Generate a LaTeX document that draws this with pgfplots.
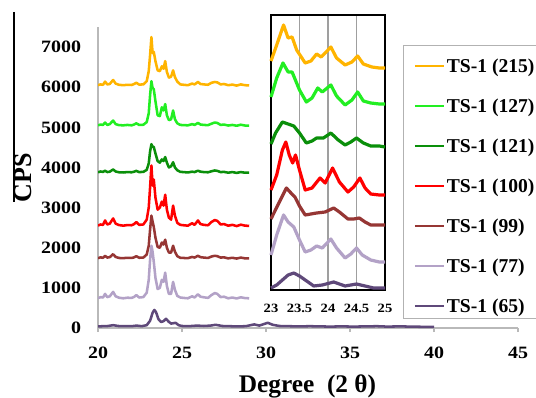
\documentclass[border=0pt]{standalone}
\usepackage{pgfplots}
\pgfplotsset{compat=1.18}
\usepackage{fontspec}
\setmainfont{Liberation Serif}
\newfontfamily\tickfont[FakeStretch=1.15]{Liberation Serif}
\definecolor{cOr}{HTML}{FFB400}
\definecolor{cLg}{HTML}{22EE22}
\definecolor{cDg}{HTML}{0A8F0A}
\definecolor{cRd}{HTML}{FF0000}
\definecolor{cBr}{HTML}{963634}
\definecolor{cLl}{HTML}{B3A2C7}
\definecolor{cPu}{HTML}{5F497A}
\begin{document}
\begin{tikzpicture}
\begin{axis}[
  at={(73.5pt,51.75pt)}, anchor=south west, scale only axis,
  width=315pt, height=225.75pt,
  xmin=20, xmax=45, ymin=0, ymax=7500,
  axis x line=bottom, axis y line=left,
  axis line style={gray!55, line width=0.8pt, -},
  xtick={20,25,30,35,40,45}, ytick={0,1000,2000,3000,4000,5000,6000,7000},
  x tick style={gray!55, line width=0.8pt}, y tick style={draw=none},
  xtick align=outside, ytick align=inside, major tick length=3pt,
  /pgf/number format/assume math mode=true, /pgf/number format/1000 sep={},
  x tick label style={font={\fontsize{13}{15}\tickfont\bfseries}, yshift=-7.7pt},
  y tick label style={font={\fontsize{13}{15}\tickfont\bfseries}, xshift=-9.2pt},
  legend cell align=left,
  legend style={at={(0.752,0.9027)}, anchor=north west, draw=none, fill=none,
    inner sep=0pt, outer sep=0pt, row sep=16pt, /tikz/column sep=1.5pt,
    font={\fontsize{14.7}{16}\selectfont\bfseries},
    nodes={inner sep=0pt, text height=12.5pt, text depth=1.5pt}},
  legend image code/.code={\draw[#1, line width=1.5pt] (0pt,0pt) -- (21.75pt,0pt);},
  every axis plot/.append style={line width=1.9pt, line join=round},
]
\addplot[cOr] coordinates {(20.0,6050)(20.15,6070)(20.3,6060)(20.42,6140)(20.55,6070)(20.7,6080)(20.9,6180)(21.05,6090)(21.25,6060)(21.5,6050)(21.75,6060)(22.0,6055)(22.15,6080)(22.28,6110)(22.45,6065)(22.7,6070)(22.9,6150)(23.02,6400)(23.1,6800)(23.18,7250)(23.25,6850)(23.32,6880)(23.42,6650)(23.55,6420)(23.68,6400)(23.8,6520)(23.9,6460)(24.0,6650)(24.1,6380)(24.22,6240)(24.35,6260)(24.47,6420)(24.58,6250)(24.72,6140)(24.9,6070)(25.1,6060)(25.35,6050)(25.6,6090)(25.75,6070)(25.95,6130)(26.1,6080)(26.3,6070)(26.55,6060)(26.75,6110)(26.95,6130)(27.1,6120)(27.3,6070)(27.5,6080)(27.75,6050)(28.0,6065)(28.25,6040)(28.5,6070)(28.75,6050)(29.0,6045)};
\addlegendentry{TS-1 (215)}
\addplot[cLg] coordinates {(20.0,5050)(20.15,5070)(20.3,5060)(20.42,5120)(20.55,5060)(20.7,5080)(20.9,5170)(21.05,5080)(21.25,5055)(21.5,5050)(21.75,5060)(22.0,5050)(22.15,5070)(22.28,5100)(22.45,5060)(22.7,5065)(22.9,5130)(23.02,5350)(23.1,5800)(23.18,6150)(23.25,5980)(23.32,5950)(23.42,5650)(23.55,5300)(23.68,5280)(23.8,5500)(23.9,5420)(24.0,5580)(24.1,5300)(24.22,5180)(24.35,5200)(24.47,5420)(24.58,5200)(24.72,5100)(24.9,5060)(25.1,5055)(25.35,5050)(25.6,5080)(25.75,5060)(25.95,5110)(26.1,5070)(26.3,5060)(26.55,5055)(26.75,5090)(26.95,5120)(27.1,5110)(27.3,5060)(27.5,5070)(27.75,5045)(28.0,5060)(28.25,5040)(28.5,5065)(28.75,5045)(29.0,5045)};
\addlegendentry{TS-1 (127)}
\addplot[cDg] coordinates {(20.0,3880)(20.15,3900)(20.3,3890)(20.42,3920)(20.55,3885)(20.7,3895)(20.9,3950)(21.05,3900)(21.25,3880)(21.5,3875)(21.75,3885)(22.0,3880)(22.15,3895)(22.28,3915)(22.45,3885)(22.7,3890)(22.9,3940)(23.02,4100)(23.1,4400)(23.18,4580)(23.25,4520)(23.32,4510)(23.42,4350)(23.55,4160)(23.68,4120)(23.8,4200)(23.9,4160)(24.0,4260)(24.1,4120)(24.22,4000)(24.35,4030)(24.47,4130)(24.58,4000)(24.72,3930)(24.9,3890)(25.1,3885)(25.35,3875)(25.6,3895)(25.75,3885)(25.95,3920)(26.1,3895)(26.3,3885)(26.55,3880)(26.75,3905)(26.95,3925)(27.1,3915)(27.3,3885)(27.5,3890)(27.75,3870)(28.0,3885)(28.25,3865)(28.5,3885)(28.75,3870)(29.0,3870)};
\addlegendentry{TS-1 (121)}
\addplot[cRd] coordinates {(20.0,2550)(20.15,2580)(20.3,2570)(20.42,2680)(20.55,2580)(20.7,2600)(20.9,2730)(21.05,2600)(21.25,2565)(21.5,2550)(21.75,2565)(22.0,2560)(22.15,2590)(22.28,2640)(22.45,2570)(22.7,2580)(22.9,2700)(23.02,3000)(23.1,3500)(23.18,4050)(23.25,3550)(23.32,3700)(23.42,3250)(23.55,2950)(23.68,3000)(23.8,3150)(23.9,3050)(24.0,3320)(24.1,2950)(24.22,2750)(24.35,2700)(24.47,3050)(24.58,2800)(24.72,2620)(24.9,2570)(25.1,2560)(25.35,2550)(25.6,2610)(25.75,2570)(25.95,2680)(26.1,2590)(26.3,2570)(26.55,2560)(26.75,2640)(26.95,2690)(27.1,2670)(27.3,2580)(27.5,2590)(27.75,2550)(28.0,2570)(28.25,2540)(28.5,2575)(28.75,2550)(29.0,2545)};
\addlegendentry{TS-1 (100)}
\addplot[cBr] coordinates {(20.0,1740)(20.15,1760)(20.3,1750)(20.42,1800)(20.55,1755)(20.7,1765)(20.9,1840)(21.05,1770)(21.25,1745)(21.5,1740)(21.75,1750)(22.0,1745)(22.15,1760)(22.28,1790)(22.45,1750)(22.7,1755)(22.9,1830)(23.02,2050)(23.1,2450)(23.18,2800)(23.25,2650)(23.32,2520)(23.42,2250)(23.55,2020)(23.68,2000)(23.8,2130)(23.9,2080)(24.0,2200)(24.1,2000)(24.22,1880)(24.35,1880)(24.47,2050)(24.58,1900)(24.72,1790)(24.9,1750)(25.1,1745)(25.35,1740)(25.6,1770)(25.75,1755)(25.95,1800)(26.1,1765)(26.3,1755)(26.55,1745)(26.75,1780)(26.95,1800)(27.1,1790)(27.3,1755)(27.5,1760)(27.75,1735)(28.0,1750)(28.25,1730)(28.5,1755)(28.75,1735)(29.0,1735)};
\addlegendentry{TS-1 (99)}
\addplot[cLl] coordinates {(20.0,740)(20.15,770)(20.3,760)(20.42,850)(20.55,770)(20.7,790)(20.9,900)(21.05,790)(21.25,755)(21.5,740)(21.75,755)(22.0,750)(22.15,775)(22.28,820)(22.45,760)(22.7,770)(22.9,880)(23.02,1200)(23.1,1700)(23.18,2050)(23.25,1900)(23.32,1650)(23.42,1250)(23.55,970)(23.68,1000)(23.8,1200)(23.9,1150)(24.0,1380)(24.1,1050)(24.22,850)(24.35,850)(24.47,1150)(24.58,950)(24.72,800)(24.9,760)(25.1,750)(25.35,740)(25.6,790)(25.75,760)(25.95,840)(26.1,780)(26.3,765)(26.55,750)(26.75,820)(26.95,870)(27.1,850)(27.3,770)(27.5,780)(27.75,740)(28.0,760)(28.25,735)(28.5,765)(28.75,745)(29.0,740)};
\addlegendentry{TS-1 (77)}
\addplot[cPu] coordinates {(20.0,40)(20.3,45)(20.6,50)(20.9,70)(21.2,50)(21.6,45)(22.0,45)(22.3,60)(22.6,45)(22.9,70)(23.1,180)(23.25,380)(23.35,450)(23.45,400)(23.6,220)(23.75,150)(23.9,170)(24.05,230)(24.2,160)(24.35,110)(24.5,120)(24.62,130)(24.8,70)(25.0,50)(25.4,45)(25.9,60)(26.3,50)(26.7,60)(27.0,80)(27.4,50)(27.8,45)(28.3,40)(28.8,45)(29.3,90)(29.6,60)(30.1,130)(30.4,80)(30.8,50)(31.3,45)(32.0,40)(32.6,45)(33.2,40)(33.8,35)(34.5,40)(35.2,35)(36.0,40)(36.6,45)(37.2,35)(38.0,40)(38.6,35)(39.3,30)(40.0,30)};
\addlegendentry{TS-1 (65)}
\end{axis}
\begin{axis}[
  at={(203.25pt,80.25pt)}, anchor=south west, scale only axis,
  width=85.5pt, height=206.25pt,
  xmin=23, xmax=25, ymin=0, ymax=275,
  axis line style={black, line width=0.8pt},
  axis background/.style={fill=white},
  xtick={23,23.5,24,24.5,25}, xticklabels={23,23.5,24,24.5,25}, ytick=\empty,
  xmajorgrids, grid style={gray!75, line width=0.8pt},
  major tick length=0pt,
  x tick label style={font={\fontsize{9.5}{11}\tickfont\bfseries}, yshift=-7.3pt},
  clip=false,
  every axis plot/.append style={line width=2.4pt, line join=round},
]
\addplot[cOr] coordinates {(23,229)(23.1,245)(23.22,265)(23.3,252)(23.37,253)(23.45,240)(23.6,227)(23.7,229)(23.8,236)(23.88,233)(23.95,237)(24.05,243)(24.15,232)(24.3,225)(24.42,228)(24.52,234)(24.62,226)(24.77,223)(24.9,222)(25,222)};
\addplot[cLg] coordinates {(23,193)(23.1,212)(23.21,227)(23.3,218)(23.37,218)(23.5,200)(23.62,188)(23.72,192)(23.82,202)(23.9,198)(24.05,205)(24.15,194)(24.3,185)(24.42,190)(24.52,198)(24.62,189)(24.75,187)(24.9,186)(25,186)};
\addplot[cDg] coordinates {(23,146)(23.08,157)(23.2,168)(23.3,166)(23.4,164)(23.5,157)(23.62,147)(23.72,149)(23.8,152)(23.92,152)(24.05,157)(24.18,150)(24.3,145)(24.4,148)(24.5,152)(24.62,147)(24.75,144)(24.9,144)(25,143)};
\addplot[cRd] coordinates {(23,100)(23.1,115)(23.2,140)(23.26,148)(23.32,135)(23.38,127)(23.43,135)(23.5,120)(23.6,100)(23.72,102)(23.86,112)(23.95,107)(24.08,122)(24.2,108)(24.35,98)(24.45,103)(24.56,112)(24.65,102)(24.75,96)(24.9,95)(25,95)};
\addplot[cBr] coordinates {(23,71)(23.12,85)(23.27,102)(23.35,97)(23.42,93)(23.5,84)(23.6,75)(23.7,76)(23.8,77)(23.95,78)(24.1,82)(24.2,78)(24.35,71)(24.45,71)(24.55,72)(24.65,68)(24.75,65)(24.9,65)(25,65)};
\addplot[cLl] coordinates {(23,35)(23.1,55)(23.22,75)(23.3,68)(23.4,63)(23.5,50)(23.6,38)(23.7,40)(23.8,44)(23.9,42)(24.05,51)(24.15,42)(24.3,32)(24.4,36)(24.5,42)(24.6,35)(24.75,30)(24.9,28)(25,28)};
\addplot[cPu] coordinates {(23,2)(23.1,5)(23.2,10)(23.3,15)(23.4,17)(23.5,14)(23.6,10)(23.75,4)(23.9,5)(24.1,8)(24.2,6)(24.3,4)(24.5,6)(24.65,4)(24.8,2)(25,2)};
\end{axis}
\begin{scope}[x=0.75pt,y=0.75pt]
\draw[gray!60, line width=0.6pt] (403,352) rectangle (545,79);
\draw[black, line width=0.8pt] (14,385) -- (14,195);
\node[rotate=90, font={\fontsize{19.5}{20}\selectfont\bfseries}] at (23.5,219) {CPS};
\node[anchor=base, font={\fontsize{19}{20}\selectfont\bfseries}] at (307.5,5) {Degree\ \ (2 θ)};
\pgfresetboundingbox
\path (0,0) rectangle (536,397);
\end{scope}
\end{tikzpicture}
\end{document}
